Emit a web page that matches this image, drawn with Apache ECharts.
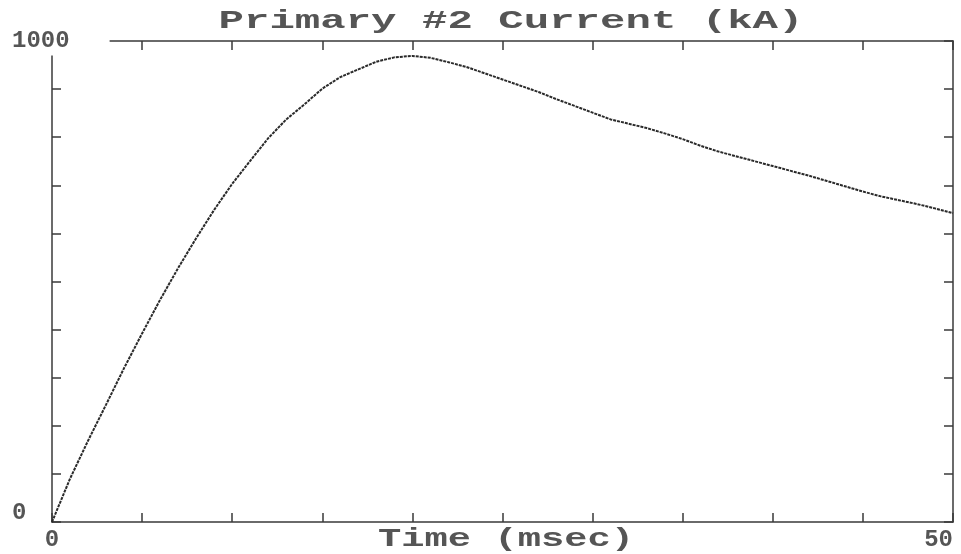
<!DOCTYPE html>
<html>
<head>
<meta charset="utf-8">
<title>Primary #2 Current</title>
<script src="https://cdn.jsdelivr.net/npm/echarts@6/dist/echarts.min.js"></script>
<style>
  html, body { margin: 0; padding: 0; background: #fff; }
  #chart { width: 961px; height: 554px; }
</style>
</head>
<body>
<div id="chart"></div>
<script>
// Primary #2 current waveform, sampled every millisecond
var timeMs = [
  0, 1, 2, 3, 4, 5, 6, 7, 8, 9,
  10, 11, 12, 13, 14, 15, 16, 17, 18, 19,
  20, 21, 22, 23, 24, 25, 26, 27, 28, 29,
  30, 31, 32, 33, 34, 35, 36, 37, 38, 39,
  40, 41, 42, 43, 44, 45, 46, 47, 48, 49, 50
];
var currentKA = [
  0, 90, 169, 244, 320, 392, 462, 528, 590, 649,
  703, 751, 798, 837, 868, 901, 925, 941, 957, 966,
  969, 965, 956, 946, 933, 920, 907, 894, 879, 865,
  851, 837, 828, 819, 808, 796, 782, 770, 760, 750,
  740, 730, 720, 709, 698, 687, 677, 669, 661, 652, 642
];

// Axis ranges and labelled ticks
var xRange = [0, 50];
var xTickStep = 5;
var xTickLabels = [0, 50];
var yRange = [0, 1000];
var yTickStep = 100;
var yTickLabels = [0, 1000];

var titleText = 'Primary #2 Current (kA)';
var xAxisTitle = 'Time (msec)';

var ink = '#3a3a3a';
var textInk = '#555';
var monoFont = '"Liberation Mono", "DejaVu Sans Mono", monospace';

var points = timeMs.map(function (t, i) { return [t, currentKA[i]]; });

// Every side of the frame carries short ticks pointing into the plot
function frameLine() {
  return { show: true, onZero: false, lineStyle: { color: ink, width: 1.5 } };
}
function innerTick() {
  return { show: true, inside: true, length: 9, lineStyle: { color: ink, width: 1.5 } };
}

var chart = echarts.init(document.getElementById('chart'), null, { renderer: 'canvas' });

chart.setOption({
  backgroundColor: '#fff',
  animation: false,
  grid: {
    left: 52, right: 8, top: 41, bottom: 32,
    containLabel: false,
    outerBoundsMode: 'none'
  },
  xAxis: [
    {
      type: 'value',
      position: 'bottom',
      min: xRange[0], max: xRange[1], interval: xTickStep,
      axisLine: frameLine(),
      axisTick: innerTick(),
      splitLine: { show: false },
      axisLabel: {
        show: true,
        margin: 6,
        fontFamily: monoFont,
        fontWeight: 'bold',
        fontSize: 24,
        color: textInk,
        alignMaxLabel: 'right',
        formatter: function (v) {
          return xTickLabels.indexOf(v) >= 0 ? String(v) : '';
        }
      }
    },
    {
      type: 'value',
      position: 'top',
      min: xRange[0], max: xRange[1], interval: xTickStep,
      axisLine: frameLine(),
      axisTick: innerTick(),
      splitLine: { show: false },
      axisLabel: { show: false }
    }
  ],
  yAxis: [
    {
      type: 'value',
      position: 'left',
      min: yRange[0], max: yRange[1], interval: yTickStep,
      axisLine: frameLine(),
      axisTick: innerTick(),
      splitLine: { show: false },
      axisLabel: {
        show: true,
        align: 'left',
        margin: 40,
        fontFamily: monoFont,
        fontWeight: 'bold',
        fontSize: 24,
        color: textInk,
        formatter: function (v) {
          if (yTickLabels.indexOf(v) < 0) { return ''; }
          return v === yRange[1] ? '{top|' + v + '}' : '{bot|' + v + '}';
        },
        rich: {
          top: {
            fontFamily: monoFont, fontWeight: 'bold', fontSize: 24, color: textInk,
            backgroundColor: '#fff', padding: [2, 40, 3, 0]
          },
          bot: {
            fontFamily: monoFont, fontWeight: 'bold', fontSize: 24, color: textInk,
            padding: [0, 0, 18, 0]
          }
        }
      }
    },
    {
      type: 'value',
      position: 'right',
      min: yRange[0], max: yRange[1], interval: yTickStep,
      axisLine: frameLine(),
      axisTick: innerTick(),
      splitLine: { show: false },
      axisLabel: { show: false }
    }
  ],
  graphic: [
    {
      type: 'text',
      x: 511, y: 21,
      scaleX: 1.63,
      z: 10,
      style: {
        text: titleText,
        font: 'bold 26px ' + monoFont,
        fill: textInk,
        textAlign: 'center',
        textVerticalAlign: 'middle'
      }
    },
    {
      type: 'text',
      x: 506, y: 540,
      scaleX: 1.55,
      z: 10,
      style: {
        text: xAxisTitle,
        font: 'bold 25px ' + monoFont,
        fill: textInk,
        textAlign: 'center',
        textVerticalAlign: 'middle'
      }
    }
  ],
  series: [
    {
      type: 'line',
      xAxisIndex: 0,
      yAxisIndex: 0,
      data: points,
      showSymbol: false,
      smooth: false,
      lineStyle: { color: '#2a2a2a', width: 2, type: [3, 1] },
      z: 3
    }
  ]
});
</script>
</body>
</html>
